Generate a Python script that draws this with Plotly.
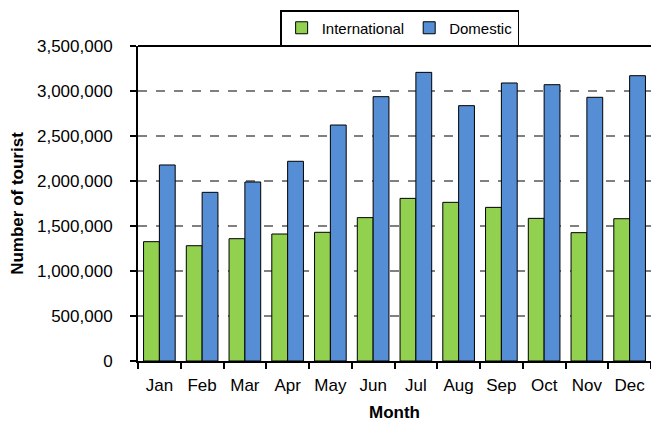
import plotly.graph_objects as go

months = ["Jan", "Feb", "Mar", "Apr", "May", "Jun", "Jul", "Aug", "Sep", "Oct", "Nov", "Dec"]
international = [1326000, 1281000, 1359000, 1411000, 1430000, 1593000, 1807000, 1763000, 1707000, 1585000, 1426000, 1581000]
domestic = [2178000, 1874000, 1989000, 2219000, 2622000, 2937000, 3207000, 2837000, 3089000, 3070000, 2930000, 3170000]

FONT = "Liberation Sans, Arial, sans-serif"

fig = go.Figure()
fig.add_trace(go.Bar(name="International", x=months, y=international,
                     marker=dict(color="#92D050", line=dict(color="black", width=1))))
fig.add_trace(go.Bar(name="Domestic", x=months, y=domestic,
                     marker=dict(color="#558ED5", line=dict(color="black", width=1))))

fig.update_layout(
    width=643, height=414,
    margin=dict(l=130, r=0, t=38, b=61, autoexpand=False),
    paper_bgcolor="white", plot_bgcolor="white",
    barmode="group", bargap=0.26, bargroupgap=0,
    font=dict(family=FONT, size=17, color="black"),
    showlegend=True,
    legend=dict(orientation="h", x=0.51, xanchor="center", y=1.0, yanchor="bottom",
                bordercolor="black", borderwidth=1.5, bgcolor="white",
                font=dict(size=15), itemwidth=30, traceorder="normal"),
    xaxis=dict(showline=True, linecolor="black", linewidth=2, ticks="outside",
               tickson="boundaries", ticklen=6, tickcolor="black", tickwidth=2,
               showgrid=False, tickangle=0, ticklabelstandoff=8,
               title=dict(text="<b>Month</b>", font=dict(size=17, color="black"), standoff=24)),
    yaxis=dict(range=[0, 3500000], tickvals=list(range(0, 3500001, 500000)),
               tickformat=",d", showline=True, linecolor="black", linewidth=2,
               ticks="outside", ticklen=6, tickcolor="black", tickwidth=2,
               showgrid=True, gridcolor="#808080", griddash="dash", gridwidth=1.5,
               zeroline=False, ticklabelstandoff=14,
               title=dict(text="<b>Number of tourist</b>", font=dict(size=17, color="black"), standoff=10)),
)
fig.add_shape(type="line", xref="paper", yref="paper", x0=0, x1=1, y0=1, y1=1,
              line=dict(color="black", width=2))

fig.write_html("out.html")
